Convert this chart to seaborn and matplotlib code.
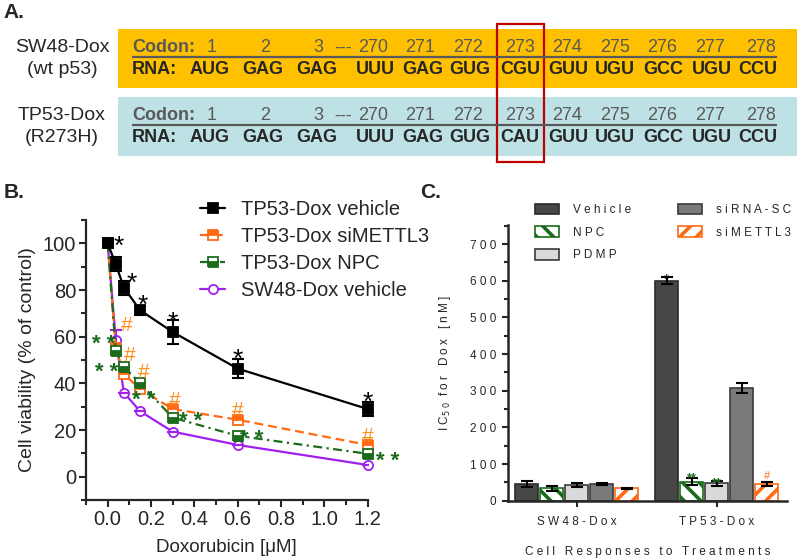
import matplotlib
matplotlib.use("Agg")
import numpy as np
import pandas as pd
import matplotlib.pyplot as plt
import seaborn as sns
from matplotlib.patches import Rectangle, Patch
from matplotlib.ticker import MultipleLocator

# ---------------- data ----------------
# Panel A
codon_numbers = ["1", "2", "3", "270", "271", "272", "273", "274", "275", "276", "277", "278"]
rna_wt = ["AUG", "GAG", "GAG", "UUU", "GAG", "GUG", "CGU", "GUU", "UGU", "GCC", "UGU", "CCU"]
rna_mut = ["AUG", "GAG", "GAG", "UUU", "GAG", "GUG", "CAU", "GUU", "UGU", "GCC", "UGU", "CCU"]
cell_names_a = ["SW48-Dox", "TP53-Dox"]
cell_notes_a = ["(wt p53)", "(R273H)"]

# Panel B
dose = [0, 0.0375, 0.075, 0.15, 0.3, 0.6, 1.2]
tp53_vehicle = [100, 91, 81, 71.3, 62, 46.3, 29]
tp53_vehicle_err = [0, 3, 3, 2, 5, 4, 3]
tp53_simettl3 = [100, 55, 44, 37.5, 29, 24.4, 13.6]
tp53_npc = [100, 54, 47, 40, 25.3, 17.5, 9.8]
sw48_vehicle = [100, 58.5, 36, 28, 19.3, 13.6, 5]
sw48_vehicle_err = [0, 4.5, 0, 0, 0, 0, 0]
series_labels = ["TP53-Dox vehicle", "TP53-Dox siMETTL3", "TP53-Dox NPC", "SW48-Dox vehicle"]

# Panel C
cell_groups = ["SW48-Dox", "TP53-Dox"]
treatments = ["Vehicle", "NPC", "PDMP", "siRNA-SC", "siMETTL3"]
sw48_ic50 = [45, 33.5, 42.5, 45.5, 33.5]
sw48_ic50_err = [8, 6, 5, 2, 2]
tp53_ic50 = [600, 52, 47, 307, 45.5]
tp53_ic50_err = [10, 10, 6, 14, 6]

# ---------------- style ----------------
sns.set_style("ticks")
plt.rcParams["font.family"] = ["Liberation Sans", "DejaVu Sans"]
plt.rcParams["hatch.linewidth"] = 2.6


def spaced(s):
    return " ".join(s)


fig = plt.figure(figsize=(8, 5.6), dpi=100)

# ---------------- Panel A (pixel coordinates) ----------------
axA = fig.add_axes([0, 0, 1, 1])
axA.set_xlim(0, 800)
axA.set_ylim(560, 0)
axA.axis("off")
codon_x = [212, 265, 318, 373, 420, 468, 520, 567, 615, 662, 710, 761]
rna_x = [210, 263, 317, 375, 423, 470, 520, 568, 615, 663, 712, 758]
gray = "#595959"
for top, col, rna, name, note in zip([29, 97], ["#ffc000", "#bde1e4"], [rna_wt, rna_mut],
                                     cell_names_a, cell_notes_a):
    axA.add_patch(Rectangle((118, top), 679, 59, facecolor=col, edgecolor="none"))
    axA.text(62, top + 19, name, ha="center", va="center", fontsize=14)
    axA.text(62, top + 41, note, ha="center", va="center", fontsize=14)
    axA.text(132, top + 19, "Codon:", ha="left", va="center", fontsize=13,
             fontweight="bold", color=gray)
    for x, n in zip(codon_x, codon_numbers):
        axA.text(x, top + 19, n, ha="center", va="center", fontsize=13, color=gray)
    axA.text(343, top + 19, "---", ha="center", va="center", fontsize=13, color=gray)
    axA.plot([132, 777], [top + 28, top + 28], color=gray, lw=1.6, solid_capstyle="butt")
    axA.text(132, top + 41, "RNA:", ha="left", va="center", fontsize=13, fontweight="bold")
    for x, c in zip(rna_x, rna):
        axA.text(x, top + 41, c, ha="center", va="center", fontsize=13, fontweight="bold")
axA.add_patch(Rectangle((497, 24), 47, 138, fill=False, edgecolor="#c00000", lw=1.6))
axA.text(3, 12, "A.", ha="left", va="center", fontsize=15, fontweight="bold")
axA.text(4, 193, "B.", ha="left", va="center", fontsize=15, fontweight="bold")
axA.text(420, 193, "C.", ha="left", va="center", fontsize=15, fontweight="bold")

# ---------------- Panel B ----------------
axB = fig.add_axes([86 / 800, 1 - 500 / 560, 281.7 / 800, 280 / 560])
orange = "#ff6a13"
green = "#1a6b1a"
purple = "#a020f0"
styles = [
    dict(color="black", marker="s", linestyle="-", markerfacecolor="black",
         markeredgecolor="black", zorder=6),
    dict(color=orange, marker="s", linestyle=(0, (4, 2.2)), markerfacecolor=orange,
         markeredgecolor=orange, fillstyle="top", markerfacecoloralt="white", zorder=4),
    dict(color=green, marker="s", linestyle=(0, (4, 2, 1, 2)), markerfacecolor=green,
         markeredgecolor=green, fillstyle="bottom", markerfacecoloralt="white", zorder=5),
    dict(color=purple, marker="o", linestyle="-", markerfacecolor="white",
         markeredgecolor=purple, zorder=3),
]
for vals, lab, st in zip([tp53_vehicle, tp53_simettl3, tp53_npc, sw48_vehicle], series_labels, styles):
    sns.lineplot(x=dose, y=vals, ax=axB, label=lab, lw=1.6, markersize=6.6,
                 markeredgewidth=1.3, clip_on=False, **st)
axB.errorbar(dose, tp53_vehicle, yerr=tp53_vehicle_err, fmt="none", ecolor="black",
             elinewidth=1.5, capsize=4, capthick=1.5, zorder=6, clip_on=False)
axB.errorbar(dose, sw48_vehicle, yerr=sw48_vehicle_err, fmt="none", ecolor=purple,
             elinewidth=1.5, capsize=4, capthick=1.5, zorder=3)

axB.set_xlim(-0.1, 1.2)
axB.set_ylim(-10, 110)
xt = [0, 0.2, 0.4, 0.6, 0.8, 1.0, 1.2]
axB.set_xticks(xt)
axB.set_xticklabels([f"{v:.1f}" for v in xt])
axB.set_yticks([0, 20, 40, 60, 80, 100])
axB.xaxis.set_minor_locator(MultipleLocator(0.1))
axB.yaxis.set_minor_locator(MultipleLocator(10))
axB.tick_params(which="major", direction="out", length=5, width=1.5, labelsize=14.5, pad=2)
axB.tick_params(which="minor", direction="out", length=3.5, width=1.5)
sns.despine(ax=axB)
for sp in ["left", "bottom"]:
    axB.spines[sp].set_linewidth(1.6)
axB.set_xlabel("Doxorubicin [\u03bcM]", fontsize=13.5)
axB.set_ylabel("Cell viability (% of control)", fontsize=14)
axB.xaxis.set_label_coords(0.5, -0.168)
axB.xaxis.label.set_verticalalignment("center")
axB.yaxis.set_label_coords(-0.209, 0.5)
axB.yaxis.label.set_verticalalignment("center")

leg = axB.legend(loc="upper left", bbox_to_anchor=(0.25, 0.643), bbox_transform=fig.transFigure,
                 frameon=False, fontsize=14.5, handlelength=1.25, handletextpad=0.8,
                 labelspacing=0.4, borderpad=0, borderaxespad=0, numpoints=1)


def mark(ax, x, y, txt, color, fs, k, weight="normal"):
    # (x, y) is where the glyph centre should sit; k = glyph centre height in em
    ax.annotate(txt, xy=(x, y), xytext=(0, -k * fs), textcoords="offset points",
                ha="center", va="baseline", color=color, fontsize=fs,
                fontweight=weight, annotation_clip=False, zorder=8)


black_off = [(1, 0.0125, 11), (2, 0.034, 5), (3, 0.014, 5.3), (4, 0, 7.5), (5, 0, 7.4), (6, 0, 6)]
for i, dx, dy in black_off:
    mark(axB, dose[i] + dx, tp53_vehicle[i] + dy, "*", "black", 19, 0.58)
hash_off = [(1, 0.05, 10.5), (2, 0.028, 8.6), (3, 0.018, 7.8), (4, 0.01, 4.5), (5, 0, 5), (6, 0, 4.4)]
for i, dx, dy in hash_off:
    mark(axB, dose[i] + dx, tp53_simettl3[i] + dy, "#", "#ff8c1a", 15, 0.36)
star_off = [(1, -0.0575, 6), (2, -0.08, 1), (3, 0.015, -4.2), (4, 0.085, 1.7), (5, 0.065, 1.8), (6, 0.09, -0.2)]
for i, dx, dy in star_off:
    mark(axB, dose[i] + dx, tp53_npc[i] + dy, "* *", green, 16, 0.58, weight="bold")

# ---------------- Panel C ----------------
axC = fig.add_axes([507.7 / 800, 1 - 500.7 / 560, 279 / 800, 275.7 / 560])
df = pd.DataFrame({
    "cell": np.repeat(cell_groups, len(treatments)),
    "treatment": treatments * len(cell_groups),
    "ic50": sw48_ic50 + tp53_ic50,
})
fills = {"Vehicle": "#474747", "NPC": "white", "PDMP": "#d9d9d9",
         "siRNA-SC": "#7a7a7a", "siMETTL3": "white"}
edges = {"Vehicle": "#2b2b2b", "NPC": green, "PDMP": "#3a3a3a",
         "siRNA-SC": "#3a3a3a", "siMETTL3": orange}
hatches = {"Vehicle": None, "NPC": "\\\\", "PDMP": None, "siRNA-SC": None, "siMETTL3": "//"}
sns.barplot(data=df, x="cell", y="ic50", hue="treatment", hue_order=treatments,
            palette=fills, width=0.893, gap=0.07, saturation=1, errorbar=None,
            legend=False, ax=axC)
errs = {tr: (sw48_ic50_err[j], tp53_ic50_err[j]) for j, tr in enumerate(treatments)}
bar_centers = {}
for cont, tr in zip(axC.containers, treatments):
    xs, ys = [], []
    for bar in cont:
        bar.set_edgecolor(edges[tr])
        bar.set_linewidth(1.2)
        if hatches[tr]:
            bar.set_hatch(hatches[tr])
        xs.append(bar.get_x() + bar.get_width() / 2)
        ys.append(bar.get_height())
    bar_centers[tr] = (xs, ys)
    axC.errorbar(xs, ys, yerr=errs[tr], fmt="none", ecolor="black", elinewidth=1.5,
                 capsize=4.5, capthick=1.5, zorder=5)

# significance marks on TP53-Dox bars
xs, ys = bar_centers["Vehicle"]
mark(axC, xs[1], ys[1] + 14, "*", "black", 10, 0.58)
xs, ys = bar_centers["NPC"]
mark(axC, xs[1], ys[1] + 20, "**", green, 9, 0.58, weight="bold")
xs, ys = bar_centers["PDMP"]
mark(axC, xs[1], ys[1] + 12, "**", green, 9, 0.58, weight="bold")
xs, ys = bar_centers["siMETTL3"]
mark(axC, xs[1], ys[1] + 24, "#", orange, 8, 0.36)

axC.set_xlim(-0.493, 1.5)
axC.set_ylim(0, 752)
yt = list(range(0, 800, 100))
axC.set_yticks(yt)
axC.set_yticklabels([spaced(str(v)) for v in yt])
axC.yaxis.set_minor_locator(MultipleLocator(50))
axC.set_xticks([0, 1])
axC.set_xticklabels([spaced(c) for c in cell_groups])
axC.tick_params(axis="y", which="major", direction="out", length=4, width=1.5, labelsize=8.5, pad=4)
axC.tick_params(axis="y", which="minor", direction="out", length=3, width=1.5)
axC.tick_params(axis="x", which="major", direction="out", length=4, width=1.5, labelsize=8.5, pad=7)
sns.despine(ax=axC)
for sp in ["left", "bottom"]:
    axC.spines[sp].set_linewidth(1.8)
axC.set_xlabel(spaced("Cell Responses to Treatments"), fontsize=8.5)
axC.xaxis.set_label_coords(0.5, -0.186)
axC.xaxis.label.set_verticalalignment("center")
axC.set_ylabel("I C$_{5\\ 0}$  " + spaced("for Dox [nM]"), fontsize=8.5)
axC.yaxis.set_label_coords(-0.2247, 0.5)
axC.yaxis.label.set_verticalalignment("center")

handles = [Patch(facecolor=fills[t], edgecolor=edges[t], hatch=hatches[t], linewidth=1.2)
           for t in treatments]
axC.legend(handles, [spaced(t) for t in treatments], ncol=2, loc="upper left",
           bbox_to_anchor=(0.669, 0.6366), bbox_transform=fig.transFigure, frameon=False,
           fontsize=8.5, handlelength=2.0, handleheight=1.05, handletextpad=1.2,
           columnspacing=4.0, labelspacing=0.85, borderpad=0, borderaxespad=0)

fig.savefig("out.png", dpi=100)
